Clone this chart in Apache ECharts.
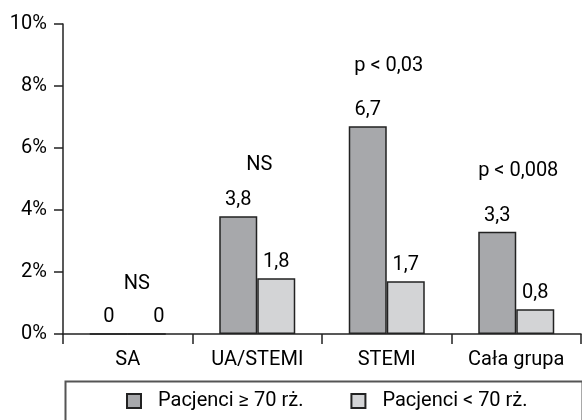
<!DOCTYPE html>
<html>
<head>
<meta charset="utf-8">
<script src="https://cdn.jsdelivr.net/npm/echarts@6/dist/echarts.min.js"></script>
<style>
  html, body { margin: 0; padding: 0; background: #fff; }
  #main { width: 582px; height: 420px; }
</style>
</head>
<body>
<div id="main"></div>
<script>
const categories = ["SA", "UA/STEMI", "STEMI", "Cała grupa"];
const older = [0, 3.8, 6.7, 3.3];
const younger = [0, 1.8, 1.7, 0.8];
const seriesNames = ["Pacjenci \u2265 70 rż.", "Pacjenci < 70 rż."];
const yTicks = [0, 2, 4, 6, 8, 10];
// p-value annotations: text and height (in %) per category
const pTexts = ["NS", "NS", "p < 0,03", "p < 0,008"];
const pHeights = [1.6, 5.45, 8.65, 5.25];

const font = "Roboto, 'Liberation Sans', sans-serif";
const txt = "#000";
const fs = 20;

function fmt(v) {
  return String(v).replace(".", ",");
}

let chart = echarts.init(document.getElementById("main"));

let option = {
  animation: false,
  textStyle: { fontFamily: font },
  grid: { left: 63, right: 1, top: 24, bottom: 86 },
  xAxis: {
    type: "category",
    data: categories,
    axisLine: { lineStyle: { color: "#222", width: 1.5 } },
    axisTick: { show: true, length: 10, lineStyle: { color: "#222", width: 1.5 } },
    axisLabel: { color: txt, fontSize: fs, fontFamily: font, margin: 16 }
  },
  yAxis: {
    type: "value",
    min: yTicks[0],
    max: yTicks[yTicks.length - 1],
    interval: 2,
    splitLine: { show: false },
    axisLine: { show: true, lineStyle: { color: "#222", width: 1.5 } },
    axisTick: { show: true, length: 9, lineStyle: { color: "#222", width: 1.5 } },
    axisLabel: {
      color: txt,
      fontSize: fs,
      fontFamily: font,
      margin: 16,
      formatter: "{value}%"
    }
  },
  legend: {
    left: 121,
    top: 386,
    itemWidth: 14,
    itemHeight: 14,
    itemGap: 47,
    icon: "rect",
    textStyle: { color: txt, fontSize: fs, fontFamily: font, padding: [0, 0, 0, 12] },
    data: seriesNames
  },
  graphic: [
    {
      type: "rect",
      left: 63,
      top: 379,
      shape: { width: 517, height: 60 },
      style: { fill: "none", stroke: "#555", lineWidth: 2 }
    }
  ],
  series: [
    {
      name: seriesNames[0],
      type: "bar",
      data: older,
      barWidth: 38,
      barGap: 0,
      itemStyle: { color: "#a7a8ab", borderColor: "#222", borderWidth: 1.5 },
      label: {
        show: true,
        position: "top",
        distance: 6,
        color: txt,
        fontSize: fs,
        fontFamily: font,
        formatter: function (p) { return fmt(p.value); }
      },
      markPoint: {
        symbol: "rect",
        symbolSize: 0,
        label: {
          show: true,
          position: "inside",
          color: txt,
          fontSize: fs,
          fontFamily: font,
          formatter: function (p) { return p.name; }
        },
        data: pTexts.map(function (t, i) {
          return {
            name: t,
            coord: [i, pHeights[i]],
            label: { offset: [i === 0 ? 28 : 21, 0] }
          };
        })
      }
    },
    {
      name: seriesNames[1],
      type: "bar",
      data: younger.map(function (v, i) {
        return i === 0 ? { value: v, label: { offset: [12, 0] } } : v;
      }),
      barWidth: 38,
      barGap: 0,
      itemStyle: { color: "#d3d4d6", borderColor: "#222", borderWidth: 1.5 },
      label: {
        show: true,
        position: "top",
        distance: 6,
        color: txt,
        fontSize: fs,
        fontFamily: font,
        formatter: function (p) { return fmt(p.value); }
      }
    }
  ]
};

chart.setOption(option);
window.addEventListener("resize", chart.resize);
</script>
</body>
</html>
